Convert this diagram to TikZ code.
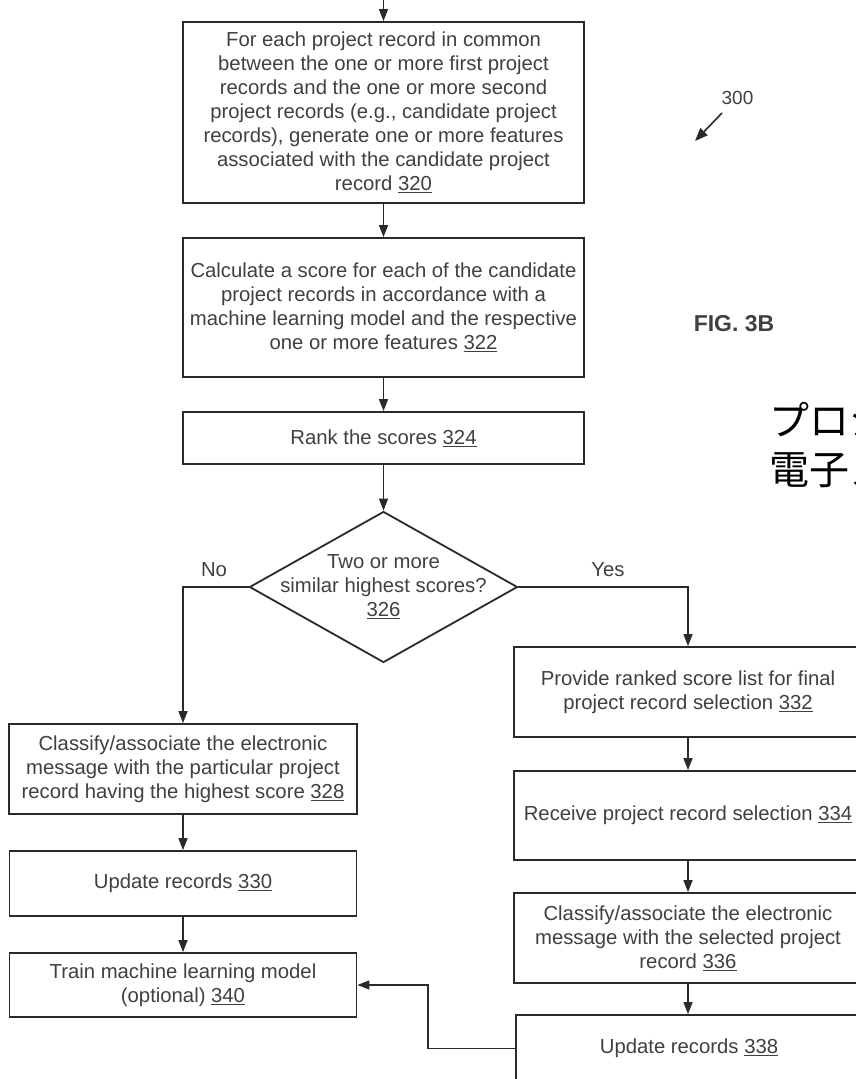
\documentclass[tikz,border=0pt]{standalone}
\usepackage{fontspec}
\setmainfont{Liberation Sans}
\newfontfamily\jpfont{Noto Sans CJK JP}
\usetikzlibrary{arrows.meta,shapes.geometric}

\definecolor{edgegray}{HTML}{2A2A2A}
\definecolor{txtgray}{HTML}{404040}

% underlined reference numeral
\newcommand\rnum[1]{\underline{#1}}

\tikzset{
  box/.style={draw=edgegray, line width=1.8pt, fill=white, inner sep=0pt,
    align=center, text=txtgray, font=\fontsize{20.3}{24}\selectfont},
  decision/.style={diamond, draw=edgegray, line width=1.8pt, fill=white,
    inner sep=0pt, minimum width=268pt, minimum height=151pt},
  txt/.style={align=center, text=txtgray, font=\fontsize{20.3}{24}\selectfont},
  flow/.style={draw=edgegray, line width=1.4pt,
    -{Triangle[length=12pt,width=9pt]}},
}

\begin{document}
\begin{tikzpicture}[x=1pt,y=-1pt]
\useasboundingbox (0,0) rectangle (856,1079);
\clip (0,0) rectangle (856,1079);
\fill[white] (0,0) rectangle (856,1079);

% main column
\coordinate (entry) at (383.5,0);
\node[box, minimum width=401pt, minimum height=181pt] (b320) at (383.5,112.5)
  {For each project record in common\\
   between the one or more first project\\
   records and the one or more second\\
   project records (e.g., candidate project\\
   records), generate one or more features\\
   associated with the candidate project\\
   record \rnum{320}};
\node[box, minimum width=401pt, minimum height=139pt] (b322) at (383.5,307.5)
  {Calculate a score for each of the candidate\\
   project records in accordance with a\\
   machine learning model and the respective\\
   one or more features \rnum{322}};
\node[box, minimum width=401pt, minimum height=52pt] (b324) at (383.5,438)
  {Rank the scores \rnum{324}};
\node[decision] (d326) at (383.5,587) {};
\node[txt] at (d326) {Two or more\\ similar highest scores?\\ \rnum{326}};

% "No" branch
\node[box, minimum width=348.5pt, minimum height=90pt] (b328) at (183,769)
  {Classify/associate the electronic\\
   message with the particular project\\
   record having the highest score \rnum{328}};
\node[box, minimum width=347pt, minimum height=65pt] (b330) at (183,883.5)
  {Update records \rnum{330}};
\node[box, minimum width=347pt, minimum height=64pt] (b340) at (183,985)
  {Train machine learning model\\ (optional) \rnum{340}};

% "Yes" branch
\node[box, minimum width=348pt, minimum height=90pt] (b332) at (688,692)
  {Provide ranked score list for final\\ project record selection \rnum{332}};
\node[box, minimum width=348pt, minimum height=89pt] (b334) at (688,815.5)
  {Receive project record selection \rnum{334}};
\node[box, minimum width=348pt, minimum height=90pt] (b336) at (688,938)
  {Classify/associate the electronic\\
   message with the selected project\\
   record \rnum{336}};
\node[box, minimum width=346pt, minimum height=67pt] (b338) at (689,1048.5)
  {Update records \rnum{338}};

% connectors
\draw[flow] (entry) -- (b320.north);
\draw[flow] (b320) -- (b322);
\draw[flow] (b322) -- (b324);
\draw[flow] (b324) -- (d326.north);
\draw[flow] (d326.west) -| (b328.north);
\draw[flow] (d326.east) -| (b332.north);
\draw[flow] (b328) -- (b330);
\draw[flow] (b330) -- (b340);
\draw[flow] (b332) -- (b334);
\draw[flow] (b334) -- (b336);
\draw[flow] (b336.south) -- (b338.north -| b336.south);
\draw[flow] (b338.west) -- ++(-87,0) |- (b340.east);

% branch labels
\node[txt] (lno) at (214,570) {No};
\node[txt] (lyes) at (608,570) {Yes};

% figure reference
\node[text=txtgray, font=\fontsize{19}{22}\selectfont] (n300) at (737.5,97.5) {300};
\coordinate (r300a) at (722,113);
\coordinate (r300b) at (695,141);
\draw[draw=edgegray, line width=1.6pt, -{Triangle[length=13pt,width=10pt]}] (r300a) -- (r300b);

\node[text=txtgray, font=\bfseries\fontsize{23}{27}\selectfont] (fig) at (734,323.5) {FIG. 3B};

% Japanese caption
\node[anchor=base west, inner sep=0pt, font=\jpfont\fontsize{40}{48}\selectfont] (jp1) at (769,435) {プロジェクト};
\node[anchor=base west, inner sep=0pt, font=\jpfont\fontsize{40}{48}\selectfont] (jp2) at (769,484) {電子メッセージ};
\end{tikzpicture}
\end{document}
